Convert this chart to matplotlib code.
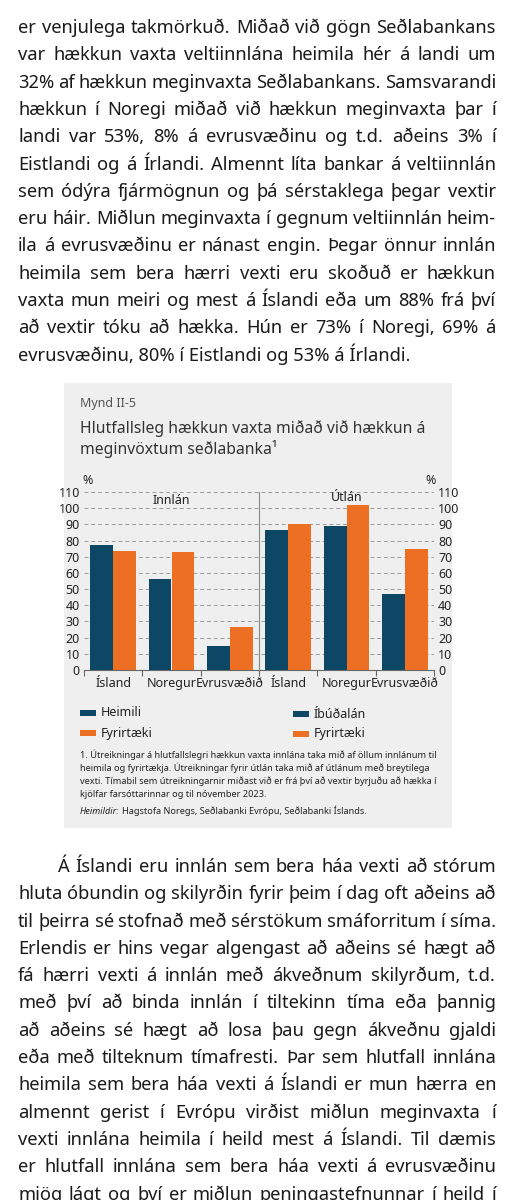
import matplotlib
matplotlib.use("Agg")
import matplotlib.pyplot as plt
from matplotlib.patches import Rectangle

categories = ["Ísland", "Noregur", "Evrusvæðið", "Ísland", "Noregur", "Evrusvæðið"]
navy_vals = [77, 56, 15, 86.5, 89, 47]
orange_vals = [73.5, 73, 26.5, 90, 102, 75]
yticks = list(range(0, 111, 10))

top_lines = [
    "er venjulega takmörkuð. Miðað við gögn Seðlabankans",
    "var hækkun vaxta veltiinnlána heimila hér á landi um",
    "32% af hækkun meginvaxta Seðlabankans. Samsvarandi",
    "hækkun í Noregi miðað við hækkun meginvaxta þar í",
    "landi var 53%, 8% á evrusvæðinu og t.d. aðeins 3% í",
    "Eistlandi og á Írlandi. Almennt líta bankar á veltiinnlán",
    "sem ódýra fjármögnun og þá sérstaklega þegar vextir",
    "eru háir. Miðlun meginvaxta í gegnum veltiinnlán heim-",
    "ila á evrusvæðinu er nánast engin. Þegar önnur innlán",
    "heimila sem bera hærri vexti eru skoðuð er hækkun",
    "vaxta mun meiri og mest á Íslandi eða um 88% frá því",
    "að vextir tóku að hækka. Hún er 73% í Noregi, 69% á",
    "evrusvæðinu, 80% í Eistlandi og 53% á Írlandi.",
]
bottom_lines = [
    "Á Íslandi eru innlán sem bera háa vexti að stórum",
    "hluta óbundin og skilyrðin fyrir þeim í dag oft aðeins að",
    "til þeirra sé stofnað með sérstökum smáforritum í síma.",
    "Erlendis er hins vegar algengast að aðeins sé hægt að",
    "fá hærri vexti á innlán með ákveðnum skilyrðum, t.d.",
    "með því að binda innlán í tiltekinn tíma eða þannig",
    "að aðeins sé hægt að losa þau gegn ákveðnu gjaldi",
    "eða með tilteknum tímafresti. Þar sem hlutfall innlána",
    "heimila sem bera háa vexti á Íslandi er mun hærra en",
    "almennt gerist í Evrópu virðist miðlun meginvaxta í",
    "vexti innlána heimila í heild mest á Íslandi. Til dæmis",
    "er hlutfall innlána sem bera háa vexti á evrusvæðinu",
    "mjög lágt og því er miðlun peningastefnunnar í heild í",
]

W, H = 514, 1200
fig = plt.figure(figsize=(W/100, H/100), dpi=100)
fig.patch.set_facecolor("white")
plt.rcParams['font.family'] = ['Noto Sans', 'DejaVu Sans']
renderer = fig.canvas.get_renderer()

def fx(x): return x / W
def fy(y): return 1 - y / H

TXT = dict(fontsize=13.2, color="#1a1a1a", va="baseline")

def justified(lines, y0, dy, x0=18, x1=496, indent_first=0, ragged_last=False):
    for i, line in enumerate(lines):
        y = y0 + i * dy
        left = x0 + (indent_first if i == 0 else 0)
        words = line.split(" ")
        if (ragged_last and i == len(lines) - 1) or len(words) == 1:
            fig.text(fx(left), fy(y), line, **TXT)
            continue
        arts = [fig.text(0, fy(y), w, **TXT) for w in words]
        widths = [a.get_window_extent(renderer).width for a in arts]
        gap = (x1 - left - sum(widths)) / (len(words) - 1)
        x = left
        for a, w in zip(arts, widths):
            a.set_x(fx(x))
            x += w + gap

justified(top_lines, 33, 27.3, ragged_last=True)
justified(bottom_lines, 872, 27.3, indent_first=40)

# panel
fig.patches.append(Rectangle((fx(64), fy(828)), (452-64)/W, (828-383)/H,
                             transform=fig.transFigure, facecolor="#efefef",
                             edgecolor="none", zorder=-10))
fig.text(fx(80), fy(407), "Mynd II-5", fontsize=9, color="#555555", va="baseline")
fig.text(fx(80), fy(433), "Hlutfallsleg hækkun vaxta miðað við hækkun á", fontsize=11.3, color="#333333", va="baseline")
fig.text(fx(80), fy(454), "meginvöxtum seðlabanka¹", fontsize=11.3, color="#333333", va="baseline")

FS = 9.0
ax = fig.add_axes([fx(84), fy(670), (434-84)/W, (670-492)/H])
ax.set_facecolor("none")
x = list(range(len(categories)))
bw = 0.39
ax.bar([i - bw/2 for i in x], navy_vals, bw, color="#0c4866", zorder=3)
ax.bar([i + bw/2 for i in x], orange_vals, bw, color="#ec6f24", zorder=3)
ax.set_xlim(-0.5, 5.5)
ax.set_ylim(0, 110)
for v in yticks[1:]:
    ax.axhline(v, color="#9a9a9a", lw=0.7, ls=(0, (4, 3)), zorder=1)
ax.axvline(2.5, color="#888888", lw=0.8, zorder=2)
for s in ["top", "left", "right"]:
    ax.spines[s].set_visible(False)
ax.spines["bottom"].set_color("#666666")
ax.set_xticks([-0.5, 0.5, 1.5, 2.5, 3.5, 4.5, 5.5])
ax.set_xticklabels([])
ax.tick_params(axis="x", length=4, color="#666666")
for i, c in enumerate(categories):
    ax.text(i, -8.5, c, ha="center", va="center", fontsize=FS, color="#222222")
ax.set_yticks(yticks)
ax.tick_params(axis="y", length=0, labelsize=FS, labelcolor="#222222", pad=3)
ax.tick_params(axis="y", which="both", right=False, labelright=True, left=False, labelleft=True)
ax.text(1, 105, "Innlán", ha="center", va="center", fontsize=FS, color="#222222")
ax.text(4, 106.5, "Útlán", ha="center", va="center", fontsize=FS, color="#222222")
fig.text(fx(82), fy(484), "%", fontsize=FS, color="#222222", ha="left", va="baseline")
fig.text(fx(436), fy(484), "%", fontsize=FS, color="#222222", ha="right", va="baseline")

# legend
leg = [(80, 713, "#0c4866", "Heimili"), (80, 733, "#ec6f24", "Fyrirtæki"),
       (293, 714, "#0c4866", "Íbúðalán"), (293, 734, "#ec6f24", "Fyrirtæki")]
for lx, ly, c, t in leg:
    fig.patches.append(Rectangle((fx(lx), fy(ly+3)), 16/W, 6/H, transform=fig.transFigure,
                                 facecolor=c, edgecolor="none"))
    fig.text(fx(lx+21), fy(ly), t, fontsize=FS, color="#222222", va="center")

notes = [
    "1. Útreikningar á hlutfallslegri hækkun vaxta innlána taka mið af öllum innlánum til",
    "heimila og fyrirtækja. Útreikningar fyrir útlán taka mið af útlánum með breytilega",
    "vexti. Tímabil sem útreikningarnir miðast við er frá því að vextir byrjuðu að hækka í",
    "kjölfar farsóttarinnar og til nóvember 2023.",
]
for i, n in enumerate(notes):
    fig.text(fx(80), fy(758 + i*13), n, fontsize=6.6, color="#222222", va="baseline")
t = fig.text(fx(80), fy(814), "Heimildir:", fontsize=6.6, color="#222222", va="baseline", style="italic")
wd = t.get_window_extent(renderer).width
fig.text(fx(80 + wd + 2), fy(814), "Hagstofa Noregs, Seðlabanki Evrópu, Seðlabanki Íslands.",
         fontsize=6.6, color="#222222", va="baseline")

fig.savefig("out.png", dpi=100)
